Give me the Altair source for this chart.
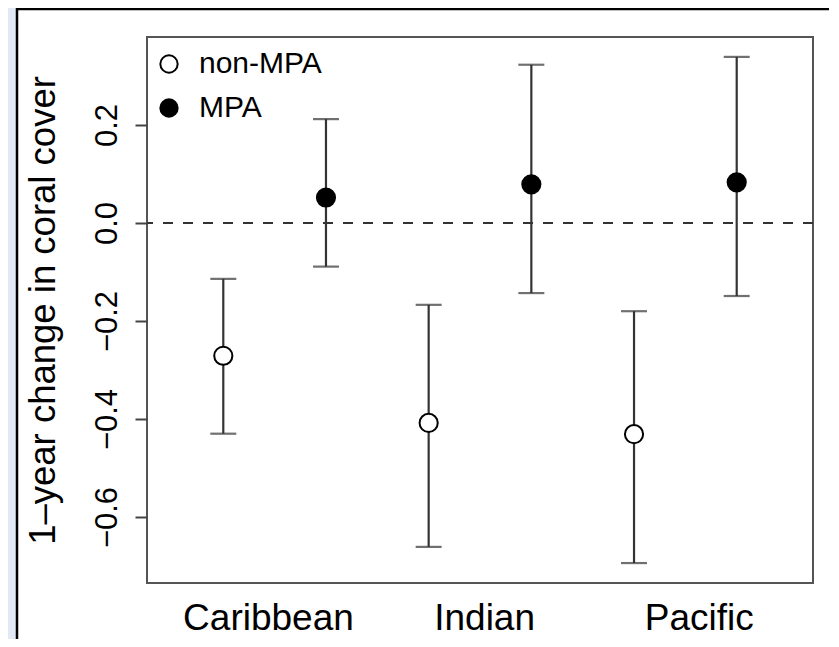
import altair as alt
import pandas as pd

# ---- data ----
regions = ["Caribbean", "Indian", "Pacific"]
groups = ["non-MPA", "MPA"]
mean_non = [-0.271, -0.408, -0.431]
lo_non = [-0.430, -0.661, -0.694]
hi_non = [-0.114, -0.167, -0.180]
mean_mpa = [0.052, 0.079, 0.083]
lo_mpa = [-0.089, -0.143, -0.149]
hi_mpa = [0.212, 0.323, 0.339]
label_pos = [1.435, 3.54, 5.63]
y_ticks = [-0.6, -0.4, -0.2, 0.0, 0.2]

rows = []
for i, r in enumerate(regions):
    rows.append(dict(region=r, group="non-MPA", pos=2 * i + 1,
                     mean=mean_non[i], lo=lo_non[i], hi=hi_non[i]))
    rows.append(dict(region=r, group="MPA", pos=2 * i + 2,
                     mean=mean_mpa[i], lo=lo_mpa[i], hi=hi_mpa[i]))
df = pd.DataFrame(rows)

W, H = 666, 546
FONT = "Liberation Sans"
label_expr = " : ".join(
    f"abs(datum.value - {p}) < 0.01 ? '{r}'" for p, r in zip(label_pos, regions)
) + " : ''"

xscale = alt.Scale(domain=[0.257, 6.743], nice=False, zero=False)
yscale = alt.Scale(domain=[-0.7347, 0.3796], nice=False, zero=False)

x_enc = alt.X("pos:Q", scale=xscale,
              axis=alt.Axis(values=label_pos, labelExpr=label_expr, title=None,
                            domain=False, ticks=False, grid=False, zindex=2,
                            labelFontSize=37, labelFont=FONT, labelColor="black",
                            labelPadding=17, labelFlush=False))
y_enc = alt.Y("mean:Q", scale=yscale,
              axis=alt.Axis(values=y_ticks, format=".1f", labelAngle=-90, zindex=2,
                            title="1\u2013year change in coral cover",
                            titleFontSize=36.5, titleFont=FONT, titleFontWeight="normal",
                            titleColor="black", titlePadding=29,
                            labelFontSize=31, labelFont=FONT, labelColor="black",
                            labelPadding=12, tickSize=12, tickWidth=2,
                            tickColor="#444444", domain=False, grid=False,
                            labelExpr="replace(datum.label, '-', '\u2212')"))

# decorative white panel with black border (screenshot frame)
panel = alt.Chart(pd.DataFrame({"a": [0]})).mark_rect(
    fill="white", stroke="black", strokeWidth=2.5, clip=False
).encode(x=alt.value(-130), x2=alt.value(720), y=alt.value(-28), y2=alt.value(640))

frame = alt.Chart(pd.DataFrame({"a": [0]})).mark_rect(
    fill=None, stroke="#555555", strokeWidth=2, filled=False
).encode(x=alt.value(0), x2=alt.value(W), y=alt.value(0), y2=alt.value(H))

zero = alt.Chart(pd.DataFrame({"z": [0.0]})).mark_rule(
    color="#333333", strokeWidth=2, strokeDash=[10, 10]
).encode(y=alt.Y("z:Q", scale=yscale))

base = alt.Chart(df)
bars = base.mark_rule(color="#333333", strokeWidth=2.2).encode(
    x=x_enc, y=alt.Y("lo:Q", scale=yscale), y2="hi:Q")
cap_lo = base.mark_tick(color="#333333", thickness=2.2, size=26, orient="horizontal").encode(
    x=alt.X("pos:Q", scale=xscale), y=alt.Y("lo:Q", scale=yscale))
cap_hi = base.mark_tick(color="#333333", thickness=2.2, size=26, orient="horizontal").encode(
    x=alt.X("pos:Q", scale=xscale), y=alt.Y("hi:Q", scale=yscale))
points = base.mark_point(filled=True, shape="circle", size=330, stroke="black",
                         strokeWidth=2, opacity=1).encode(
    x=alt.X("pos:Q", scale=xscale),
    y=y_enc,
    fill=alt.Fill("group:N", scale=alt.Scale(domain=groups, range=["white", "black"]),
                  legend=alt.Legend(title=None, orient="none", legendX=7, legendY=12,
                                    symbolType="circle", symbolSize=300,
                                    symbolStrokeColor="black", symbolStrokeWidth=2,
                                    labelFontSize=30, labelFont=FONT, labelColor="black",
                                    labelOffset=15, rowPadding=14,
                                    symbolFillColor="white")),
)

chart = alt.layer(panel, frame, zero, bars, cap_lo, cap_hi, points).properties(
    width=W, height=H,
    autosize=alt.AutoSizeParams(type="none"),
    padding={"left": 139, "top": 29, "right": 16, "bottom": 56},
    background="#e1e9f5",
).configure_view(stroke=None)

chart.save("out.html", embed_options={"renderer": "svg", "actions": False})
